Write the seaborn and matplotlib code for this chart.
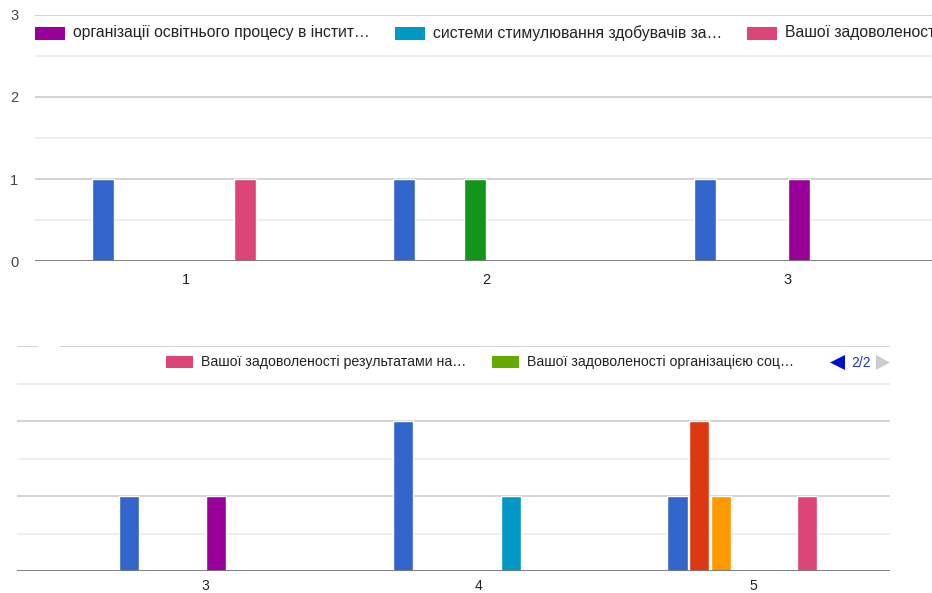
import pandas as pd
import seaborn as sns
import matplotlib.pyplot as plt
from matplotlib.patches import Rectangle, Polygon

# answer options on the x axis
categories = ["1", "2", "3", "4", "5"]

# series (rows of the grid question), in Google Charts colour order
series = ["ряд 1", "ряд 2", "ряд 3", "ряд 4",
          "організації освітнього процесу в інстит…",
          "системи стимулювання здобувачів за…",
          "Вашої задоволеності результатами на…",
          "Вашої задоволеності організацією соц…"]
colors = ["#3366cc", "#dc3912", "#ff9900", "#109618",
          "#990099", "#0099c6", "#dd4477", "#66aa00"]

# counts per series for categories 1..5
counts = {
    "ряд 1": [1, 1, 1, 2, 1],
    "ряд 2": [0, 0, 0, 0, 2],
    "ряд 3": [0, 0, 0, 0, 1],
    "ряд 4": [0, 1, 0, 0, 0],
    "організації освітнього процесу в інстит…": [0, 0, 1, 0, 0],
    "системи стимулювання здобувачів за…": [0, 0, 0, 1, 0],
    "Вашої задоволеності результатами на…": [1, 0, 0, 0, 1],
    "Вашої задоволеності організацією соц…": [0, 0, 0, 0, 0],
}

top_cats = ["1", "2", "3"]
bottom_cats = ["3", "4", "5"]
top_legend = series[4:7]
bottom_legend = series[6:8]

rows = []
for s in series:
    for c, v in zip(categories, counts[s]):
        rows.append({"cat": c, "series": s, "count": v})
df = pd.DataFrame(rows)

sns.set_style("white")
plt.rcParams["font.family"] = ["Liberation Sans", "DejaVu Sans"]

W, H = 932, 593
fig = plt.figure(figsize=(W / 100, H / 100), dpi=100)


def px_axes(left, right, top, bottom):
    return fig.add_axes([left / W, 1 - bottom / H, (right - left) / W, (bottom - top) / H])


def style(ax, xlim, tick_size, xpad, show_y):
    ax.set_xlim(*xlim)
    ax.set_ylim(0, 3)
    ax.set_yticks([0, 1, 2, 3])
    ax.set_yticks([0.5, 1.5, 2.5], minor=True)
    ax.grid(axis="y", which="major", color="#cccccc", lw=1.2, zorder=0)
    ax.grid(axis="y", which="minor", color="#ebebeb", lw=1.2, zorder=0)
    ax.set_axisbelow(True)
    ax.axhline(0, color="#777777", lw=2, zorder=5)
    for sp in ax.spines.values():
        sp.set_visible(False)
    ax.set_xlabel("")
    ax.set_ylabel("")
    ax.tick_params(axis="x", length=0, pad=xpad, labelsize=tick_size, labelcolor="#222222")
    ax.tick_params(axis="y", which="both", length=0, pad=12, labelsize=tick_size,
                   labelcolor="#444444", labelleft=show_y)
    if ax.get_legend():
        ax.get_legend().remove()


# top chart (categories 1..3), cropped on the right
ax1 = px_axes(35, 938, 15, 261)
sns.barplot(data=df[df["cat"].isin(top_cats)], x="cat", y="count", hue="series",
            order=top_cats, hue_order=series, palette=colors, width=0.63, gap=0.07,
            saturation=1, ax=ax1, zorder=3)
style(ax1, (-0.5, 2.5), 10.5, 8.5, True)

# bottom chart (categories 3..5), cropped on the left
ax2 = px_axes(17, 890, 346, 571)
sns.barplot(data=df[df["cat"].isin(bottom_cats)], x="cat", y="count", hue="series",
            order=bottom_cats, hue_order=series, palette=colors, width=0.63, gap=0.07,
            saturation=1, ax=ax2, zorder=3)
style(ax2, (-0.686, 2.5), 10, 5.5, False)

# gap in the top gridline of the bottom chart
fig.patches.append(Rectangle((38 / W, 1 - 349 / H), 22 / W, 6 / H, transform=fig.transFigure,
                             facecolor="white", edgecolor="none", zorder=10))


def legend_item(x, yc, bw, bh, color, label, size):
    fig.patches.append(Rectangle((x / W, 1 - (yc + bh / 2) / H), bw / W, bh / H,
                                 transform=fig.transFigure, facecolor=color,
                                 edgecolor="none", zorder=10))
    fig.text((x + bw + 8) / W, 1 - yc / H, label, fontsize=size, color="#222222",
             va="center", ha="left", zorder=11)


for x, s in zip([35, 395, 747], top_legend):
    legend_item(x, 33, 30, 13, colors[series.index(s)], s, 11.3)

for x, s in zip([166, 492], bottom_legend):
    legend_item(x, 362, 27, 12, colors[series.index(s)], s, 10.2)

# legend pager
fig.patches.append(Polygon([[845 / W, 1 - 355 / H], [845 / W, 1 - 370 / H], [830 / W, 1 - 362.5 / H]],
                           closed=True, transform=fig.transFigure, facecolor="#0011cc",
                           edgecolor="none", zorder=10))
fig.text(851 / W, 1 - 363 / H, "2/2", fontsize=10, color="#2233cc", va="center", ha="left")
fig.patches.append(Polygon([[876 / W, 1 - 355 / H], [876 / W, 1 - 370 / H], [890 / W, 1 - 362.5 / H]],
                           closed=True, transform=fig.transFigure, facecolor="#cccccc",
                           edgecolor="none", zorder=10))

fig.savefig("out.png", dpi=100)
